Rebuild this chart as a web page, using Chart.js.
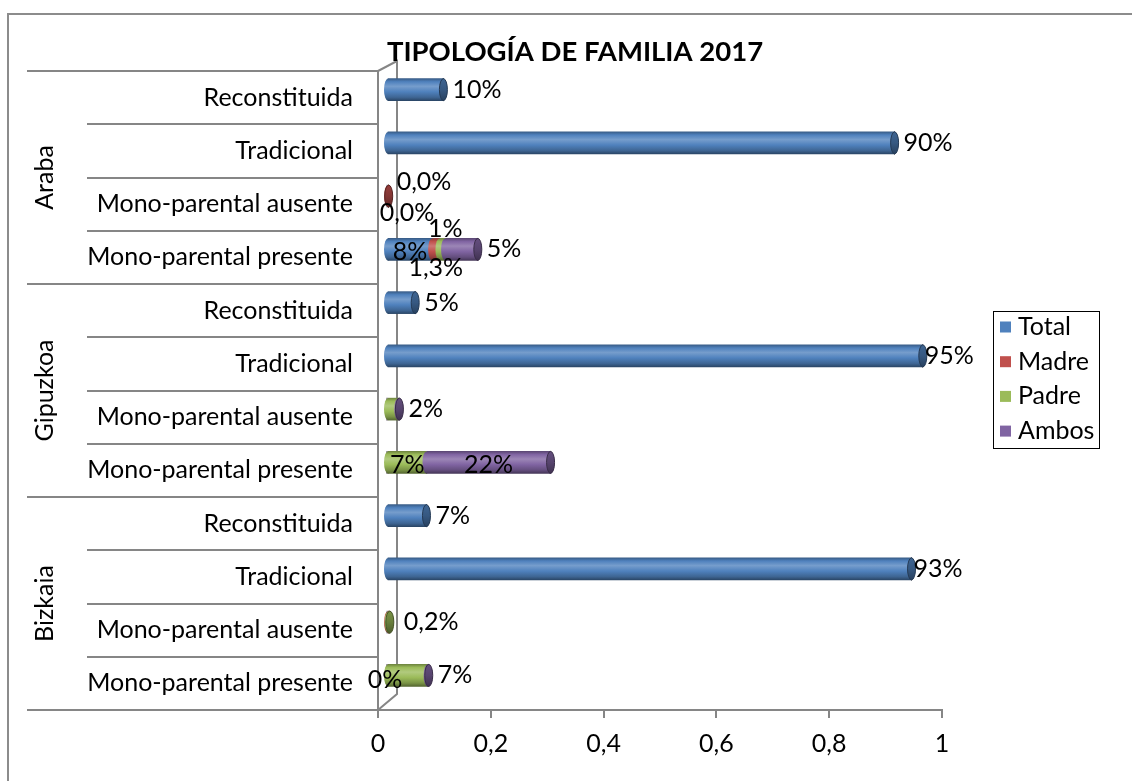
<!DOCTYPE html>
<html><head><meta charset="utf-8">
<script src="https://cdn.jsdelivr.net/npm/chart.js@4.4.0/dist/chart.umd.min.js"></script>
<style>html,body{margin:0;padding:0;background:#fff;}#wrap{width:1132px;height:781px;position:relative;}</style>
</head><body><div id="wrap"><canvas id="c"></canvas></div>
<script>
// ---------- DATA ----------
const groups = ['Araba', 'Gipuzkoa', 'Bizkaia'];
const types = ['Reconstituida', 'Tradicional', 'Mono-parental ausente', 'Mono-parental presente'];
const categories = ['Reconstituida','Tradicional','Mono-parental ausente','Mono-parental presente',
                    'Reconstituida','Tradicional','Mono-parental ausente','Mono-parental presente',
                    'Reconstituida','Tradicional','Mono-parental ausente','Mono-parental presente'];
const seriesNames = ['Total', 'Madre', 'Padre', 'Ambos'];
const totalValues = [0.10, 0.90, 0,     0.08,  0.05, 0.95, 0,     0,    0.07, 0.93, 0,     0];
const madreValues = [0,    0,    0.003, 0.013, 0,    0,    0,     0,    0,    0,    0.003, 0];
const padreValues = [0,    0,    0,     0.01,  0,    0,    0.02,  0.07, 0,    0,    0.002, 0.072];
const ambosValues = [0,    0,    0,     0.058, 0,    0,    0.002, 0.22, 0,    0,    0,     0.002];
const totalLabels = ['10%','90%',null,'8%','5%','95%',null,null,'7%','93%',null,null];
const madreLabels = [null,null,'0,0%','1,3%',null,null,null,null,null,null,null,'0%'];
const padreLabels = [null,null,'0,0%','1%',null,null,'2%','7%',null,null,'0,2%','7%'];
const ambosLabels = [null,null,null,'5%',null,null,null,'22%',null,null,null,null];
const xTickValues = [0, 0.2, 0.4, 0.6, 0.8, 1];
const xTickLabels = ['0', '0,2', '0,4', '0,6', '0,8', '1'];
const titleText = 'TIPOLOGÍA DE FAMILIA 2017';

// ---------- STYLE ----------
const FONT = 'Lato, "Open Sans", sans-serif';
const COLORS = [[79,129,189],[192,80,77],[155,187,89],[128,100,162]];
const AXIS = '#868686';
const BAR_H = 22, DX = 9, DY = -8;
const labelPlace = {'0-3':'center','1-2':'aboveRight','2-2':'belowLeft','1-3':'below','2-3':'above',
  '0-5':'rightTight','0-9':'rightTight','2-7':'center','3-7':'center','1-11':'start','2-10':'rightFar'};

const seriesValues = [totalValues, madreValues, padreValues, ambosValues];
const seriesLabels = [totalLabels, madreLabels, padreLabels, ambosLabels];

function fitSize(text, target, weight){
  const c = document.createElement('canvas').getContext('2d');
  c.font = weight + ' 100px ' + FONT;
  return Math.round(100 * target / c.measureText(text).width * 2) / 2;
}
const FS = fitSize('Mono-parental presente', 265, 'normal');
const TFS = fitSize(titleText, 377, 'bold');

const rgb = (c) => 'rgb(' + c.map(v => Math.max(0, Math.min(255, Math.round(v)))).join(',') + ')';
const shade = (c, f) => c.map(v => v * f);
const tint = (c, f) => c.map(v => v + (255 - v) * f);
function makeGrad(g, c, yc, h){
  const gr = g.createLinearGradient(0, yc - h/2, 0, yc + h/2);
  gr.addColorStop(0, rgb(shade(c, 0.72)));
  gr.addColorStop(0.14, rgb(c));
  gr.addColorStop(0.35, rgb(tint(c, 0.22)));
  gr.addColorStop(0.6, rgb(c));
  gr.addColorStop(0.85, rgb(shade(c, 0.78)));
  gr.addColorStop(1, rgb(shade(c, 0.55)));
  return gr;
}
function barFill(ctx, i){
  const ch = ctx.chart;
  if (ctx.type !== 'data' || !ch.chartArea || !ch.scales || !ch.scales.y) return rgb(COLORS[i]);
  return makeGrad(ch.ctx, COLORS[i], ch.scales.y.getPixelForValue(ctx.dataIndex), BAR_H);
}

const deco = {
  id: 'deco',
  beforeDraw(ch){
    const g = ch.ctx; g.save();
    g.fillStyle = '#fff'; g.fillRect(0, 0, ch.width, ch.height);
    g.strokeStyle = '#8c8c8c'; g.lineWidth = 2;
    g.beginPath(); g.moveTo(8, ch.height); g.lineTo(8, 14); g.lineTo(ch.width, 14); g.stroke();
    g.restore();
  },
  beforeDatasetsDraw(ch){
    const g = ch.ctx, a = ch.chartArea, n = categories.length, rowH = (a.bottom - a.top) / n;
    g.save();
    g.strokeStyle = AXIS; g.lineWidth = 2;
    for (let i = 0; i <= n; i++){
      const y = Math.round(a.top + i * rowH);
      g.beginPath(); g.moveTo(i % 4 === 0 ? 27 : 87, y); g.lineTo(a.left, y); g.stroke();
    }
    g.beginPath(); g.moveTo(a.left, a.top); g.lineTo(a.left + 19, a.top - 10);
    g.lineTo(a.left + 19, a.bottom - 16); g.lineTo(a.left, a.bottom); g.stroke();
    g.fillStyle = '#000'; g.font = FS + 'px ' + FONT; g.textAlign = 'center'; g.textBaseline = 'middle';
    groups.forEach((name, k) => {
      const yc = a.top + (k * 4 + 2) * rowH;
      g.save(); g.translate(45, yc); g.rotate(-Math.PI/2); g.fillText(name, 0, 0); g.restore();
    });
    g.restore();
    g.save(); g.translate(DX, DY);
  },
  afterDatasetsDraw(ch){
    const g = ch.ctx, n = categories.length;
    const metas = seriesValues.map((_, i) => ch.getDatasetMeta(i).data);
    for (let i = 0; i < metas.length; i++){
      for (let j = 0; j < n; j++){
        if (!seriesValues[i][j]) continue;
        const el = metas[i][j];
        g.fillStyle = makeGrad(g, COLORS[i], el.y, BAR_H);
        g.beginPath(); g.ellipse(el.base, el.y, 4, BAR_H/2, 0, 0, Math.PI*2); g.fill();
      }
    }
    const stackEnd = [];
    for (let j = 0; j < n; j++){
      let last = -1;
      for (let i = 0; i < metas.length; i++) if (seriesValues[i][j]) last = i;
      stackEnd[j] = last >= 0 ? metas[last][j].x : metas[0][j].base;
      if (last < 0) continue;
      const el = metas[last][j], c = COLORS[last];
      const gr = g.createLinearGradient(0, el.y - BAR_H/2, 0, el.y + BAR_H/2);
      gr.addColorStop(0, rgb(shade(c, 0.78))); gr.addColorStop(0.5, rgb(shade(c, 0.68))); gr.addColorStop(1, rgb(shade(c, 0.5)));
      g.fillStyle = gr; g.strokeStyle = rgb(shade(c, 0.45)); g.lineWidth = 1;
      g.beginPath(); g.ellipse(el.x, el.y, 4, BAR_H/2, 0, 0, Math.PI*2); g.fill(); g.stroke();
    }
    g.fillStyle = '#000'; g.font = FS + 'px ' + FONT; g.textBaseline = 'middle';
    for (let i = 0; i < metas.length; i++){
      for (let j = 0; j < n; j++){
        const t = seriesLabels[i][j]; if (!t) continue;
        const el = metas[i][j], mode = labelPlace[i + '-' + j] || 'right';
        let x, y = el.y, align = 'left';
        if (mode === 'right') x = stackEnd[j] + 9;
        else if (mode === 'rightTight') x = el.x + 2;
        else if (mode === 'rightFar') x = stackEnd[j] + 14;
        else if (mode === 'center'){ x = (el.x + el.base) / 2; align = 'center'; y = el.y + 3; }
        else if (mode === 'above'){ x = (el.x + el.base) / 2 + 3; align = 'center'; y = el.y - 20; }
        else if (mode === 'below'){ x = (el.x + el.base) / 2; align = 'center'; y = el.y + 19; }
        else if (mode === 'aboveRight'){ x = el.x + 8; y = el.y - 14; }
        else if (mode === 'belowLeft'){ x = el.base - 9; y = el.y + 17; }
        else if (mode === 'start'){ x = el.base - 2; align = 'center'; y = el.y + 5; }
        g.textAlign = align; g.fillText(t, x, y);
      }
    }
    g.restore();
  },
  afterDraw(ch){
    const g = ch.ctx; g.save();
    g.fillStyle = '#000'; g.font = 'bold ' + TFS + 'px ' + FONT;
    g.textAlign = 'center'; g.textBaseline = 'middle';
    g.fillText(titleText, 575, 52);
    g.strokeStyle = '#000'; g.lineWidth = 1;
    g.strokeRect(993.5, 311.5, 106, 137);
    g.font = FS + 'px ' + FONT; g.textAlign = 'left';
    seriesNames.forEach((s, i) => {
      const yc = 327 + i * 34.7;
      g.fillStyle = rgb(COLORS[i]); g.fillRect(1000, yc - 5.5, 11, 11);
      g.fillStyle = '#000'; g.fillText(s, 1018, yc);
    });
    g.restore();
  }
};

new Chart(document.getElementById('c'), {
  type: 'bar',
  data: {
    labels: categories,
    datasets: seriesNames.map((name, i) => ({
      label: name, data: seriesValues[i],
      backgroundColor: (c) => barFill(c, i),
      borderWidth: 0, barThickness: BAR_H, clip: false
    }))
  },
  options: {
    indexAxis: 'y', responsive: true, maintainAspectRatio: false, animation: false,
    layout: { padding: { left: 0, top: 71, right: 190, bottom: 0 } },
    plugins: { legend: { display: false }, title: { display: false }, tooltip: { enabled: false } },
    scales: {
      x: {
        type: 'linear', min: 0, max: 1, stacked: true,
        afterBuildTicks: (s) => { s.ticks = xTickValues.map(v => ({ value: v })); },
        afterFit: (s) => { s.height = 71; },
        ticks: { callback: (v, idx) => xTickLabels[idx], color: '#000', font: { family: FONT, size: FS }, padding: 11, maxRotation: 0 },
        grid: { display: true, drawOnChartArea: false, drawTicks: true, tickLength: 8, color: AXIS, lineWidth: 2 },
        border: { display: true, color: AXIS, width: 2 }
      },
      y: {
        type: 'category', stacked: true,
        afterFit: (s) => { s.width = 378; },
        ticks: { color: '#000', font: { family: FONT, size: FS }, padding: 17, autoSkip: false },
        grid: { display: false },
        border: { display: true, color: AXIS, width: 2 }
      }
    }
  },
  plugins: [deco]
});
</script></body></html>
